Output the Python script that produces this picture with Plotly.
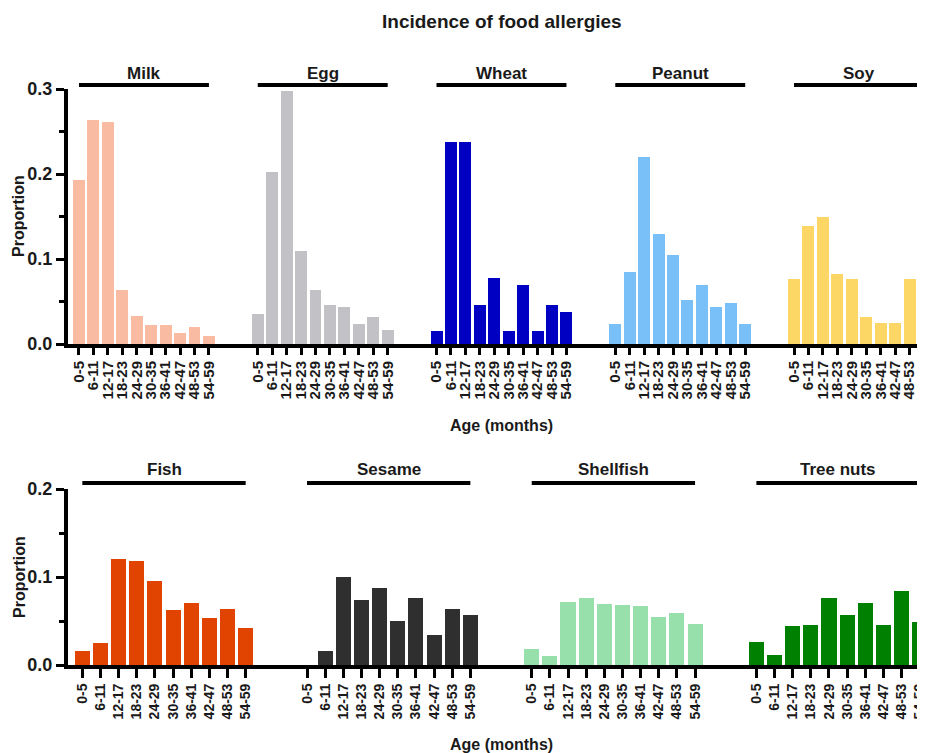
import plotly.graph_objects as go

# ---------------- data ----------------
ages = ["0-5", "6-11", "12-17", "18-23", "24-29", "30-35", "36-41", "42-47", "48-53", "54-59"]

top_names = ["Milk", "Egg", "Wheat", "Peanut", "Soy"]
milk = [0.193, 0.263, 0.261, 0.064, 0.033, 0.022, 0.022, 0.013, 0.020, 0.010]
egg = [0.035, 0.202, 0.298, 0.110, 0.063, 0.046, 0.044, 0.024, 0.032, 0.016]
wheat = [0.015, 0.238, 0.238, 0.046, 0.078, 0.015, 0.070, 0.015, 0.046, 0.038]
peanut = [0.024, 0.085, 0.220, 0.129, 0.105, 0.052, 0.069, 0.043, 0.048, 0.023]
soy = [0.077, 0.139, 0.149, 0.082, 0.077, 0.032, 0.025, 0.025, 0.077, 0.013]

bottom_names = ["Fish", "Sesame", "Shellfish", "Tree nuts"]
fish = [0.016, 0.025, 0.120, 0.118, 0.095, 0.062, 0.071, 0.053, 0.064, 0.042]
sesame = [0.000, 0.016, 0.100, 0.074, 0.087, 0.050, 0.076, 0.034, 0.064, 0.057]
shellfish = [0.018, 0.010, 0.072, 0.076, 0.069, 0.068, 0.067, 0.054, 0.059, 0.047]
tree_nuts = [0.026, 0.011, 0.044, 0.045, 0.076, 0.057, 0.071, 0.045, 0.084, 0.049]

top_values = [milk, egg, wheat, peanut, soy]
bottom_values = [fish, sesame, shellfish, tree_nuts]

top_colors = ["#F9BBA2", "#C2C2C6", "#0000C2", "#79BFF8", "#FDD766"]
bottom_colors = ["#E14400", "#2F2F2F", "#97E0AB", "#008000"]

# ---------------- layout helpers ----------------
OFF = 8                      # page body margin offset
W, H = 925 - OFF, 753 - OFF
ML = 68 - OFF
STRIDE = 12.38
BAR_W = 0.83
FONT = "Liberation Sans, Arial, sans-serif"
TXT = "#1a1a1a"


def py(p):
    return 1 - (p - OFF) / H


def px(p):
    return (p - OFF - ML) / (W - ML)


fig = go.Figure()

rows = [
    (top_names, top_values, top_colors, "x", "y"),
    (bottom_names, bottom_values, bottom_colors, "x2", "y2"),
]

tickvals = {"x": [], "x2": []}
ticktext = {"x": [], "x2": []}

for names, vals, cols, xa, ya in rows:
    for g, (nm, v, c) in enumerate(zip(names, vals, cols)):
        xs = [g * STRIDE + i for i in range(len(ages))]
        fig.add_trace(go.Bar(x=xs, y=v, marker=dict(color=c, line=dict(width=0)),
                             width=BAR_W, xaxis=xa, yaxis=ya, name=nm,
                             showlegend=False))
        tickvals[xa] += xs
        ticktext[xa] += ages

annotations = []
shapes = []

# group titles and bars
for names, xa, ty, ly in [(top_names, "x", 74, 85), (bottom_names, "x2", 470, 483)]:
    for g, nm in enumerate(names):
        x0 = g * STRIDE
        x1 = g * STRIDE + len(ages) - 1
        shapes.append(dict(type="line", xref=xa, yref="paper", x0=x0, x1=x1,
                           y0=py(ly), y1=py(ly), line=dict(color="black", width=4)))
        annotations.append(dict(text=f"<b>{nm}</b>", xref=xa, yref="paper",
                                x=(x0 + x1) / 2, y=py(ty), showarrow=False,
                                xanchor="center", yanchor="middle",
                                font=dict(size=17, color=TXT, family=FONT)))

# main title
annotations.append(dict(text="<b>Incidence of food allergies</b>", xref="paper", yref="paper",
                        x=px(502), y=py(21), showarrow=False,
                        xanchor="center", yanchor="middle",
                        font=dict(size=19, color=TXT, family=FONT)))
# x axis titles
for yy in (425, 744):
    annotations.append(dict(text="<b>Age (months)</b>", xref="paper", yref="paper",
                            x=px(501), y=py(yy), showarrow=False,
                            xanchor="center", yanchor="middle",
                            font=dict(size=16, color=TXT, family=FONT)))
# y axis titles
for yy in (216, 577):
    annotations.append(dict(text="<b>Proportion</b>", xref="paper", yref="paper",
                            x=px(19), y=py(yy), showarrow=False,
                            xanchor="center", yanchor="middle", textangle=-90,
                            font=dict(size=16, color=TXT, family=FONT)))


def xaxis(rng, tv, tt, anchor, fsize, tlen):
    return dict(domain=[0, 1], anchor=anchor, range=rng, showline=True, linewidth=4,
                linecolor="black", ticks="outside", ticklen=tlen, tickwidth=3,
                tickcolor="black", tickmode="array", tickvals=tv, ticktext=tt,
                tickangle=-90, showgrid=False, zeroline=False, automargin=False,
                ticklabeloverflow="allow",
                tickfont=dict(size=fsize, color=TXT, family=FONT, weight="bold"))


def yaxis(dom, rng, anchor):
    return dict(domain=dom, anchor=anchor, range=rng, showline=True, linewidth=4,
                linecolor="black", ticks="outside", ticklen=8, tickwidth=3,
                tickcolor="black", dtick=0.1, tick0=0, tickformat=".1f",
                showgrid=False, zeroline=False, automargin=False,
                minor=dict(dtick=0.05, tick0=0, ticks="outside", ticklen=5,
                           tickwidth=3, tickcolor="black", showgrid=False),
                tickfont=dict(size=18, color=TXT, family=FONT, weight="bold"))


fig.update_layout(
    template="none",
    width=W, height=H,
    margin=dict(l=ML, r=0, t=0, b=0, pad=0, autoexpand=False),
    paper_bgcolor="white", plot_bgcolor="white",
    bargap=0,
    xaxis=xaxis([-0.76, 58.59], tickvals["x"], ticktext["x"], "y", 15, 7),
    yaxis=yaxis([py(344), py(89)], [0, 0.3], "x"),
    xaxis2=xaxis([-0.79, 46.43], tickvals["x2"], ticktext["x2"], "y2", 14, 9),
    yaxis2=yaxis([py(665), py(489)], [0, 0.2], "x2"),
    annotations=annotations,
    shapes=shapes,
    showlegend=False,
)

fig.write_html("out.html")
